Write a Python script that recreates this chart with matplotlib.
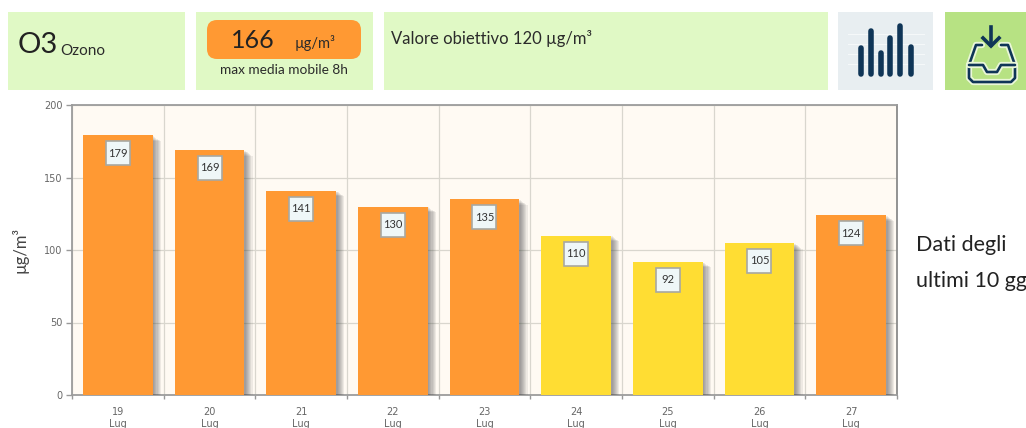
import matplotlib
matplotlib.use("Agg")
import matplotlib.pyplot as plt
import matplotlib.patheffects as pe
from matplotlib.patches import Rectangle, FancyBboxPatch
from matplotlib.transforms import offset_copy

plt.rcParams['font.family'] = ['Lato', 'DejaVu Sans']

days = ["19", "20", "21", "22", "23", "24", "25", "26", "27"]
month = "Lug"
values = [179, 169, 141, 130, 135, 110, 92, 105, 124]
threshold = 120
ORANGE, YELLOW = "#FF9933", "#FFDD33"
yticks = [0, 50, 100, 150, 200]

W, H = 1026, 428
fig = plt.figure(figsize=(W/100, H/100), dpi=100, facecolor="white")

# overlay in pixel coordinates for the header tiles
bg = fig.add_axes([0, 0, 1, 1], zorder=0)
bg.set_xlim(0, W); bg.set_ylim(H, 0); bg.axis("off")

TILE = "#E0F9C5"
for x0, x1, c in [(8, 185, TILE), (196, 373, TILE), (384, 828, TILE),
                  (838, 933, "#E8EEF1"), (945, 1026, "#B7E283")]:
    bg.add_patch(Rectangle((x0, 12), x1-x0, 78, fc=c, ec="none"))
bg.add_patch(FancyBboxPatch((214, 27), 140, 25, boxstyle="round,pad=7,rounding_size=10",
                            fc=ORANGE, ec="none", zorder=2))

T = "#2B2B2B"
bg.text(18, 45, "O3", fontsize=21, color="#222222", va="center", ha="left")
bg.text(60, 51, "Ozono", fontsize=11, color=T, va="center", ha="left")
bg.text(253, 40, "166", fontsize=18, color="#222222", va="center", ha="center", zorder=3)
bg.text(315, 43, "µg/m³", fontsize=10.5, color=T, va="center", ha="center", zorder=3)
bg.text(284, 70, "max media mobile 8h", fontsize=9.8, color=T, va="center", ha="center")
bg.text(391, 38, f"Valore obiettivo {threshold} µg/m³", fontsize=12, color=T, va="center", ha="left")

# bar-chart icon
NAVY = "#0F3557"
for y in (34, 44, 54, 64):
    bg.plot([848, 924], [y, y], color="white", lw=0.8, alpha=0.6, zorder=2)
for x, top in [(861, 48), (871, 31), (881, 53), (890, 38), (900, 26), (911, 47)]:
    bg.plot([x, x], [top, 74], color=NAVY, lw=4, solid_capstyle="round", zorder=3)

# inbox icon
halo = [pe.Stroke(linewidth=4.5, foreground="#EAF7D8"), pe.Normal()]
tray = dict(color=NAVY, lw=1.9, solid_joinstyle="round", solid_capstyle="round", zorder=3, path_effects=halo)
bg.plot([982, 976, 969, 969, 973, 1011, 1015, 1015, 1008, 1001],
        [45, 45, 65, 78, 82, 82, 78, 65, 45, 45], **tray)
bg.plot([969, 983, 987, 997, 1001, 1015], [65, 65, 72, 72, 65, 65], **tray)
bg.plot([991, 991], [27, 45], color=NAVY, lw=2.6, zorder=4)
bg.plot([983, 991, 999], [38, 46, 38], color=NAVY, lw=2.6, zorder=4, solid_joinstyle="miter")

bg.text(916, 245, "Dati degli", fontsize=15.5, color="#222222", va="center", ha="left")
bg.text(916, 281, "ultimi 10 gg", fontsize=15.5, color="#222222", va="center", ha="left")

# main chart
L, R, Tp, B = 72, 897, 105, 395
ax = fig.add_axes([L/W, 1-B/H, (R-L)/W, (B-Tp)/H], zorder=1, facecolor="#FFFAF3")
ax.set_xlim(0, len(values)); ax.set_ylim(0, 200)
pos = [i + 0.5 for i in range(len(values))]
colors = [ORANGE if v > threshold else YELLOW for v in values]

shadow = [pe.SimplePatchShadow(offset=(o, -o*0.7), shadow_rgbFace="#444444", alpha=0.09)
          for o in (6, 5, 4.2, 3.4, 2.6, 1.8, 1)]
ax.bar(pos, values, width=70/91.67, color=colors, zorder=3,
       path_effects=shadow + [pe.Normal()])

# value labels: square tag 18 px under the top of each bar
tag_tr = offset_copy(ax.transData, fig=fig, x=0, y=-18/100*72, units="points")
ax.plot(pos, values, ls="none", marker="s", ms=17, mfc="#EFF7F8", mec="#A8A8A2", mew=1.2,
        transform=tag_tr, zorder=4, clip_on=False)
for x, v in zip(pos, values):
    ax.text(x, v, str(v), transform=tag_tr, ha="center", va="center", fontsize=8,
            color="#333333", zorder=5)

ax.set_yticks(yticks)
ax.set_xticks(range(len(values)+1))
ax.set_xticklabels([])
ax.tick_params(axis="y", length=4, width=1, color="#999999", pad=3)
ax.tick_params(axis="x", length=3, width=1, color="#999999")
for lab in ax.get_yticklabels():
    lab.set_family(['DejaVu Sans'])
    lab.set_fontsize(7)
    lab.set_color("#666666")
ax.grid(True, color="#D9D6CE", lw=0.9, zorder=0)
ax.set_axisbelow(True)
for s in ax.spines.values():
    s.set_color("#9C9C9C"); s.set_linewidth(1.3)
ax.spines["right"].set_color("#8A8A8A")

for x, d in zip(pos, days):
    ax.annotate(f"{d}\n{month}", (x, 0), xytext=(0, -8.5), textcoords="offset points",
                ha="center", va="top", fontsize=7, color="#666666", family="DejaVu Sans",
                linespacing=1.25, annotation_clip=False)

bg.text(20, 250, "µg/m³", rotation=90, fontsize=12, color="#444444", va="center", ha="center")

fig.savefig("out.png", dpi=100, facecolor="white")
